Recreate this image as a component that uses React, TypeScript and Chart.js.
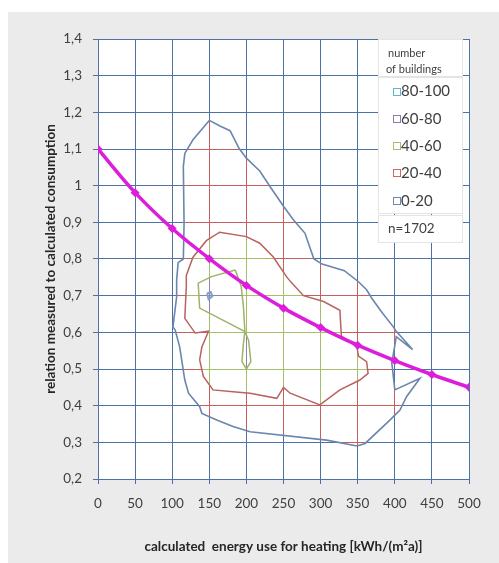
import React, { useEffect, useRef } from 'react';
import { Chart, registerables } from 'chart.js';

Chart.register(...registerables);

// ---- data ----
const xMin = 0;
const xMax = 500;
const xStep = 50;
const yMin = 0.2;
const yMax = 1.4;
const yStep = 0.1;

const curveX = [0, 50, 100, 150, 200, 250, 300, 350, 400, 450, 500];
const curveY = [1.1, 0.981, 0.883, 0.801, 0.728, 0.666, 0.613, 0.565, 0.523, 0.485, 0.45];

// contour line at 20 buildings (outer, blue)
const contour20: number[][] = [
  [150, 1.178], [165, 1.162], [178, 1.15], [190, 1.102], [200, 1.075], [218, 1.04], [232, 0.997],
  [250, 0.944], [263, 0.908], [279, 0.87], [285, 0.835], [291, 0.8], [302, 0.786], [332, 0.768],
  [351, 0.738], [362, 0.716], [369, 0.693], [382, 0.656], [398, 0.615], [401, 0.605], [424, 0.553],
  [402, 0.588], [396, 0.516], [400, 0.443], [434, 0.475], [416, 0.425], [407, 0.388], [393, 0.36],
  [360, 0.297], [349, 0.29], [308, 0.306], [205, 0.329], [182, 0.343], [160, 0.361], [140, 0.379],
  [137, 0.397], [122, 0.434], [117, 0.47], [110, 0.561], [104, 0.606], [101, 0.615], [106, 0.697],
  [106, 0.743], [108, 0.79], [115, 0.8], [116, 0.898], [115, 1.052], [117, 1.088], [128, 1.125],
  [150, 1.178],
];

// contour line at 40 buildings (red)
const contour40: number[][] = [
  [119, 0.755], [128, 0.805], [146, 0.85], [164, 0.873], [200, 0.861], [218, 0.843], [236, 0.806],
  [254, 0.752], [260, 0.737], [277, 0.7], [304, 0.684], [326, 0.66], [328, 0.59], [349, 0.56],
  [351, 0.535], [362, 0.52], [364, 0.488], [353, 0.47], [326, 0.443], [299, 0.402], [259, 0.434],
  [250, 0.45], [241, 0.42], [205, 0.434], [182, 0.438], [155, 0.443], [142, 0.48], [137, 0.525],
  [140, 0.56], [149, 0.603], [131, 0.598], [117, 0.638], [119, 0.725], [119, 0.755],
];

// contour line at 60 buildings (green)
const contour60: number[][] = [
  [185, 0.77], [153, 0.752], [135, 0.734], [137, 0.666], [198, 0.602], [203, 0.578], [206, 0.52],
  [200, 0.5], [194, 0.52], [196, 0.57], [198, 0.602], [196, 0.67], [193, 0.725], [185, 0.77],
];

// contour line at 80 buildings (tiny loop)
const contour80: number[][] = [
  [147, 0.706], [152, 0.71], [154, 0.698], [149, 0.69], [147, 0.706],
];

const legendTitle = ['number', 'of buildings'];
const legendLabels = ['80-100', '60-80', '40-60', '20-40', '0-20'];
const sampleSize = 'n=1702';

const xTitle = 'calculated  energy use for heating [kWh/(m²a)]';
const yTitle = 'relation measured to calculated consumption';

// ---- styles ----
const gridBlue = '#4c70a8';
const lineBlue = '#6a86ad';
const lineRed = '#b9625f';
const lineGreen = '#9db567';
const gridRed = '#c65f5b';
const gridGreen = '#a3bf6a';
const gridPurple = '#9380b0';
const legendColors = ['#5fb6cc', '#8f78b0', '#a3c16a', '#cc6764', '#6a86b5'];
const magenta = '#dc1edc';
const FONT = 'Lato, "Open Sans", sans-serif';

const toXY = (arr: number[][]) => arr.map(([x, y]) => ({ x, y }));
const align = (p: number) => Math.round(p - 0.5) + 0.5;

const bandGridPlugin = {
  id: 'bandGrid',
  beforeDraw(chart: any) {
    const { ctx, chartArea } = chart;
    ctx.save();
    ctx.fillStyle = '#ffffff';
    ctx.fillRect(chartArea.left, chartArea.top, chartArea.right - chartArea.left, chartArea.bottom - chartArea.top);
    ctx.restore();
  },
  beforeDatasetsDraw(chart: any) {
    const { ctx, chartArea } = chart;
    const xs = chart.scales.x;
    const ys = chart.scales.y;
    const bands: [number[][], string][] = [
      [contour20, gridRed],
      [contour40, gridGreen],
      [contour60, gridPurple],
    ];
    bands.forEach(([poly, color]) => {
      ctx.save();
      ctx.beginPath();
      poly.forEach(([px, py], i) => {
        const X = xs.getPixelForValue(px);
        const Y = ys.getPixelForValue(py);
        if (i === 0) ctx.moveTo(X, Y);
        else ctx.lineTo(X, Y);
      });
      ctx.closePath();
      ctx.clip();
      ctx.strokeStyle = color;
      ctx.lineWidth = 1;
      ctx.beginPath();
      xs.ticks.forEach((t: any) => {
        const X = align(xs.getPixelForValue(t.value));
        ctx.moveTo(X, chartArea.top);
        ctx.lineTo(X, chartArea.bottom);
      });
      ys.ticks.forEach((t: any) => {
        const Y = align(ys.getPixelForValue(t.value));
        ctx.moveTo(chartArea.left, Y);
        ctx.lineTo(chartArea.right, Y);
      });
      ctx.stroke();
      ctx.restore();
    });
  },
  afterDraw(chart: any) {
    const { ctx } = chart;
    ctx.save();
    const boxL = 370;
    const boxR = 455;
    const drawBox = (t: number, b: number) => {
      ctx.fillStyle = '#ffffff';
      ctx.fillRect(boxL, t, boxR - boxL, b - t);
      ctx.strokeStyle = '#e4e4e4';
      ctx.lineWidth = 1;
      ctx.strokeRect(boxL + 0.5, t + 0.5, boxR - boxL - 1, b - t - 1);
    };
    drawBox(27, 65);
    drawBox(65, 202);
    drawBox(203, 231);
    ctx.fillStyle = '#404040';
    ctx.textBaseline = 'middle';
    ctx.textAlign = 'left';
    ctx.font = `11px ${FONT}`;
    ctx.fillText(legendTitle[0], 380, 41);
    ctx.fillText(legendTitle[1], 378, 57);
    ctx.font = `15px ${FONT}`;
    legendLabels.forEach((lab, i) => {
      const cy = 79 + i * 27.3;
      ctx.strokeStyle = legendColors[i];
      ctx.lineWidth = 1;
      ctx.strokeRect(385.5, Math.round(cy - 3.5) + 0.5, 7, 7);
      ctx.fillStyle = '#404040';
      ctx.fillText(lab, 393, cy + 0.5);
    });
    ctx.font = `13.5px ${FONT}`;
    ctx.fillText(sampleSize, 380, 217);
    ctx.restore();
  },
};

export default function App() {
  const ref = useRef<HTMLCanvasElement>(null);
  useEffect(() => {
    if (!ref.current) return;
    const chart = new Chart(ref.current, {
      type: 'scatter',
      data: {
        datasets: [
          {
            data: curveX.map((x, i) => ({ x, y: curveY[i] })),
            showLine: true,
            borderColor: magenta,
            backgroundColor: magenta,
            borderWidth: 3.5,
            pointStyle: 'rectRot',
            pointRadius: 4.5,
            pointBorderWidth: 0,
            tension: 0.35,
          },
          {
            data: toXY(contour80),
            showLine: true,
            borderColor: '#7fa3c8',
            borderWidth: 2,
            pointRadius: 0,
          },
          {
            data: toXY(contour60),
            showLine: true,
            borderColor: lineGreen,
            borderWidth: 1.5,
            pointRadius: 0,
          },
          {
            data: toXY(contour40),
            showLine: true,
            borderColor: lineRed,
            borderWidth: 1.5,
            pointRadius: 0,
          },
          {
            data: toXY(contour20),
            showLine: true,
            borderColor: lineBlue,
            borderWidth: 1.6,
            pointRadius: 0,
          },
        ] as any,
      },
      options: {
        animation: false,
        responsive: true,
        maintainAspectRatio: false,
        layout: { padding: { left: 0, top: 27, right: 30, bottom: 0 } },
        plugins: { legend: { display: false }, tooltip: { enabled: false } },
        events: [],
        scales: {
          x: {
            type: 'linear',
            min: xMin,
            max: xMax,
            afterFit: (s: any) => { s.height = 84; },
            ticks: {
              stepSize: xStep,
              color: '#404040',
              font: { family: FONT, size: 13.5 },
              padding: 12,
              maxRotation: 0,
            },
            grid: { color: gridBlue, lineWidth: 1, tickLength: 5, tickColor: gridBlue },
            border: { color: gridBlue, width: 1 },
            title: {
              display: true,
              text: xTitle,
              color: '#262626',
              font: { family: FONT, size: 13.5, weight: 'bold' },
              padding: { top: 0, bottom: 8 },
            },
          },
          y: {
            type: 'linear',
            min: yMin,
            max: yMax,
            afterFit: (s: any) => { s.width = 90; },
            ticks: {
              stepSize: yStep,
              color: '#404040',
              font: { family: FONT, size: 13.5 },
              padding: 11,
              callback: (v: any) => {
                const n = Math.round(Number(v) * 10) / 10;
                return n === 1 ? '1' : n.toFixed(1).replace('.', ',');
              },
            },
            grid: { color: gridBlue, lineWidth: 1, tickLength: 5, tickColor: gridBlue },
            border: { color: gridBlue, width: 1 },
            title: {
              display: true,
              text: yTitle,
              color: '#262626',
              font: { family: FONT, size: 13.5, weight: 'bold' },
              padding: { top: 35, bottom: 0 },
            },
          },
        },
      } as any,
      plugins: [bandGridPlugin],
    });
    return () => chart.destroy();
  }, []);

  return (
    <div
      style={{
        position: 'fixed',
        left: 8,
        top: 12,
        width: 491,
        height: 551,
        background: '#ebebeb',
      }}
    >
      <canvas ref={ref} />
    </div>
  );
}
